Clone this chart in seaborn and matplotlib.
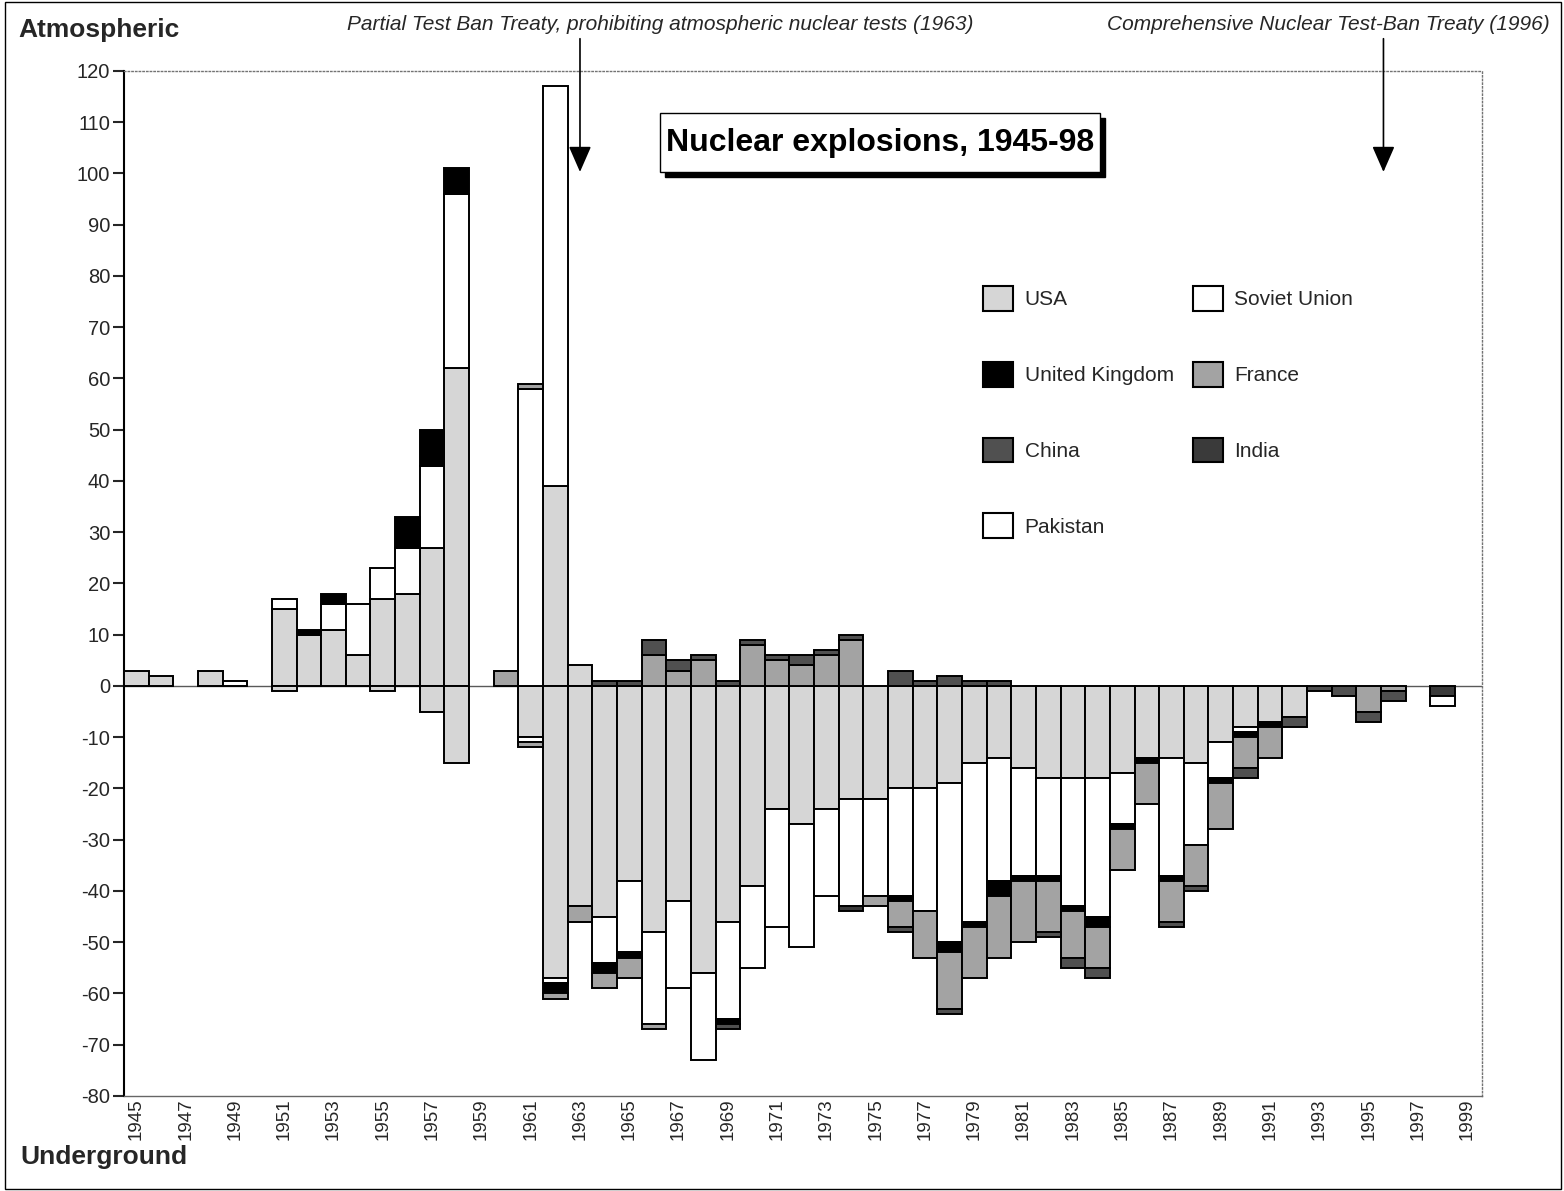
import numpy as np
import seaborn as sns
import matplotlib.pyplot as plt
from matplotlib.patches import Patch, Rectangle

# Dados: numero de explosoes por ano (1945-1998), atmosfericas e subterraneas

anos = list(range(1945, 1999))

usa_atm = [3, 2, 0, 3, 0, 0, 15, 10, 11, 6,
           17, 18, 27, 62, 0, 0, 0, 39, 4, 0,
           0, 0, 0, 0, 0, 0, 0, 0, 0, 0,
           0, 0, 0, 0, 0, 0, 0, 0, 0, 0,
           0, 0, 0, 0, 0, 0, 0, 0, 0, 0,
           0, 0, 0, 0]
usa_und = [0, 0, 0, 0, 0, 0, 1, 0, 0, 0,
           1, 0, 5, 15, 0, 0, 10, 57, 43, 45,
           38, 48, 42, 56, 46, 39, 24, 27, 24, 22,
           22, 20, 20, 19, 15, 14, 16, 18, 18, 18,
           17, 14, 14, 15, 11, 8, 7, 6, 0, 0,
           0, 0, 0, 0]

urss_atm = [0, 0, 0, 0, 1, 0, 2, 0, 5, 10,
            6, 9, 16, 34, 0, 0, 58, 78, 0, 0,
            0, 0, 0, 0, 0, 0, 0, 0, 0, 0,
            0, 0, 0, 0, 0, 0, 0, 0, 0, 0,
            0, 0, 0, 0, 0, 0, 0, 0, 0, 0,
            0, 0, 0, 0]
urss_und = [0, 0, 0, 0, 0, 0, 0, 0, 0, 0,
            0, 0, 0, 0, 0, 0, 1, 1, 0, 9,
            14, 18, 17, 17, 19, 16, 23, 24, 17, 21,
            19, 21, 24, 31, 31, 24, 21, 19, 25, 27,
            10, 0, 23, 16, 7, 1, 0, 0, 0, 0,
            0, 0, 0, 0]

uk_atm = [0, 0, 0, 0, 0, 0, 0, 1, 2, 0,
          0, 6, 7, 5, 0, 0, 0, 0, 0, 0,
          0, 0, 0, 0, 0, 0, 0, 0, 0, 0,
          0, 0, 0, 0, 0, 0, 0, 0, 0, 0,
          0, 0, 0, 0, 0, 0, 0, 0, 0, 0,
          0, 0, 0, 0]
uk_und = [0, 0, 0, 0, 0, 0, 0, 0, 0, 0,
          0, 0, 0, 0, 0, 0, 0, 2, 0, 2,
          1, 0, 0, 0, 1, 0, 0, 0, 0, 0,
          0, 1, 0, 2, 1, 3, 1, 1, 1, 2,
          1, 1, 1, 0, 1, 1, 1, 0, 0, 0,
          0, 0, 0, 0]

franca_atm = [0, 0, 0, 0, 0, 0, 0, 0, 0, 0,
              0, 0, 0, 0, 0, 3, 1, 0, 0, 0,
              0, 6, 3, 5, 0, 8, 5, 4, 6, 9,
              0, 0, 0, 0, 0, 0, 0, 0, 0, 0,
              0, 0, 0, 0, 0, 0, 0, 0, 0, 0,
              0, 0, 0, 0]
franca_und = [0, 0, 0, 0, 0, 0, 0, 0, 0, 0,
              0, 0, 0, 0, 0, 0, 1, 1, 3, 3,
              4, 1, 0, 0, 0, 0, 0, 0, 0, 0,
              2, 5, 9, 11, 10, 12, 12, 10, 9, 8,
              8, 8, 8, 8, 9, 6, 6, 0, 0, 0,
              5, 1, 0, 0]

china_atm = [0, 0, 0, 0, 0, 0, 0, 0, 0, 0,
             0, 0, 0, 0, 0, 0, 0, 0, 0, 1,
             1, 3, 2, 1, 1, 1, 1, 2, 1, 1,
             0, 3, 1, 2, 1, 1, 0, 0, 0, 0,
             0, 0, 0, 0, 0, 0, 0, 0, 0, 0,
             0, 0, 0, 0]
china_und = [0, 0, 0, 0, 0, 0, 0, 0, 0, 0,
             0, 0, 0, 0, 0, 0, 0, 0, 0, 0,
             0, 0, 0, 0, 1, 0, 0, 0, 0, 0,
             0, 1, 0, 1, 0, 0, 0, 1, 2, 2,
             0, 0, 1, 1, 0, 2, 0, 2, 1, 2,
             2, 2, 0, 0]

india_und = [0] * 29 + [1] + [0] * 22 + [0, 2]
paquistao_und = [0] * 52 + [0, 2]
zeros = [0] * len(anos)

paises = ['USA', 'Soviet Union', 'United Kingdom', 'France', 'China', 'India', 'Pakistan']
atmosfericas = [usa_atm, urss_atm, uk_atm, franca_atm, china_atm, zeros, zeros]
subterraneas = [usa_und, urss_und, uk_und, franca_und, china_und, india_und, paquistao_und]
cores = ['#d6d6d6', 'white', 'black', '#a3a3a3', '#505050', '#3a3a3a', 'white']

sns.set_style('white')
plt.rcParams['font.family'] = ['Liberation Sans', 'DejaVu Sans']
plt.rcParams['axes.unicode_minus'] = False

fig = plt.figure(figsize=(15.64, 11.91), dpi=100)
ax = fig.add_axes([0.0793, 0.0798, 0.8683, 0.8606])

x = np.array(anos)
base_pos = np.zeros(len(anos))
base_neg = np.zeros(len(anos))
for atm, und, cor in zip(atmosfericas, subterraneas, cores):
    atm = np.array(atm, dtype=float)
    und = np.array(und, dtype=float)
    m = atm > 0
    ax.bar(x[m], atm[m], width=1.0, bottom=base_pos[m], color=cor,
           edgecolor='black', linewidth=1.4, zorder=3)
    m = und > 0
    ax.bar(x[m], -und[m], width=1.0, bottom=-base_neg[m], color=cor,
           edgecolor='black', linewidth=1.4, zorder=3)
    base_pos += atm
    base_neg += und

ax.axhline(0, color='0.35', lw=1, zorder=2)

ax.set_xlim(1944.5, 1999.6)
ax.set_ylim(-80, 120)
ax.set_yticks(range(-80, 121, 10))
ax.set_xticks(range(1945, 2000, 2))
ax.set_xticklabels([str(a) for a in range(1945, 2000, 2)], rotation=90)
ax.tick_params(axis='y', length=8, width=1.5, labelsize=14.5, pad=2, left=True)
ax.tick_params(axis='x', length=0, labelsize=13.5, pad=2)

ax.spines['left'].set_linewidth(1.5)
ax.spines['left'].set_color('black')
ax.spines['bottom'].set_color('0.4')
ax.spines['bottom'].set_linewidth(1)
for lado in ['top', 'right']:
    ax.spines[lado].set_linestyle(':')
    ax.spines[lado].set_color('0.45')
    ax.spines[lado].set_linewidth(1)

# Setas dos tratados
for ano_tratado in [1963, 1995.6]:
    ax.annotate('', xy=(ano_tratado, 100.3), xytext=(ano_tratado, 126.3),
                arrowprops=dict(arrowstyle='-|>,head_length=1.6,head_width=0.7',
                                color='black', lw=1.2, shrinkA=0, shrinkB=0),
                annotation_clip=False)

fig.text(660 / 1564, 1 - 25 / 1191,
         'Partial Test Ban Treaty, prohibiting atmospheric nuclear tests (1963)',
         ha='center', va='center', fontsize=15, style='italic')
fig.text(1328 / 1564, 1 - 25 / 1191, 'Comprehensive Nuclear Test-Ban Treaty (1996)',
         ha='center', va='center', fontsize=15, style='italic')

fig.text(18 / 1564, 1 - 30 / 1191, 'Atmospheric', ha='left', va='center',
         fontsize=19, weight='bold')
fig.text(20 / 1564, 1 - 1157 / 1191, 'Underground', ha='left', va='center',
         fontsize=19, weight='bold')

# Titulo em caixa com sombra
W, H = 1564, 1191
fig.patches.append(Rectangle(((660 + 5) / W, 1 - (172 + 5) / H), 440 / W, 59 / H,
                             transform=fig.transFigure, facecolor='black', edgecolor='black'))
fig.patches.append(Rectangle((660 / W, 1 - 172 / H), 440 / W, 59 / H,
                             transform=fig.transFigure, facecolor='white', edgecolor='black', lw=1))
fig.text(880 / W, 1 - 143 / H, 'Nuclear explosions, 1945-98', ha='center', va='center',
         fontsize=23, weight='bold', color='black')

# Legenda
ordem = [0, 2, 4, 6, 1, 3, 5]
handles = [Patch(facecolor=cores[i], edgecolor='black', lw=1.5, label=paises[i]) for i in ordem]
fig.legend(handles=handles, loc='upper left', bbox_to_anchor=(983 / W, 1 - 286 / H),
           ncol=2, frameon=False, fontsize=15, handlelength=1.45, handleheight=1.45,
           handletextpad=0.55, labelspacing=2.45, columnspacing=0.9, borderpad=0,
           borderaxespad=0)

fig.patches.append(Rectangle((0.003, 0.002), 0.995, 0.996, transform=fig.transFigure,
                             fill=False, lw=1, edgecolor='black'))

fig.savefig('out.png', dpi=100)
